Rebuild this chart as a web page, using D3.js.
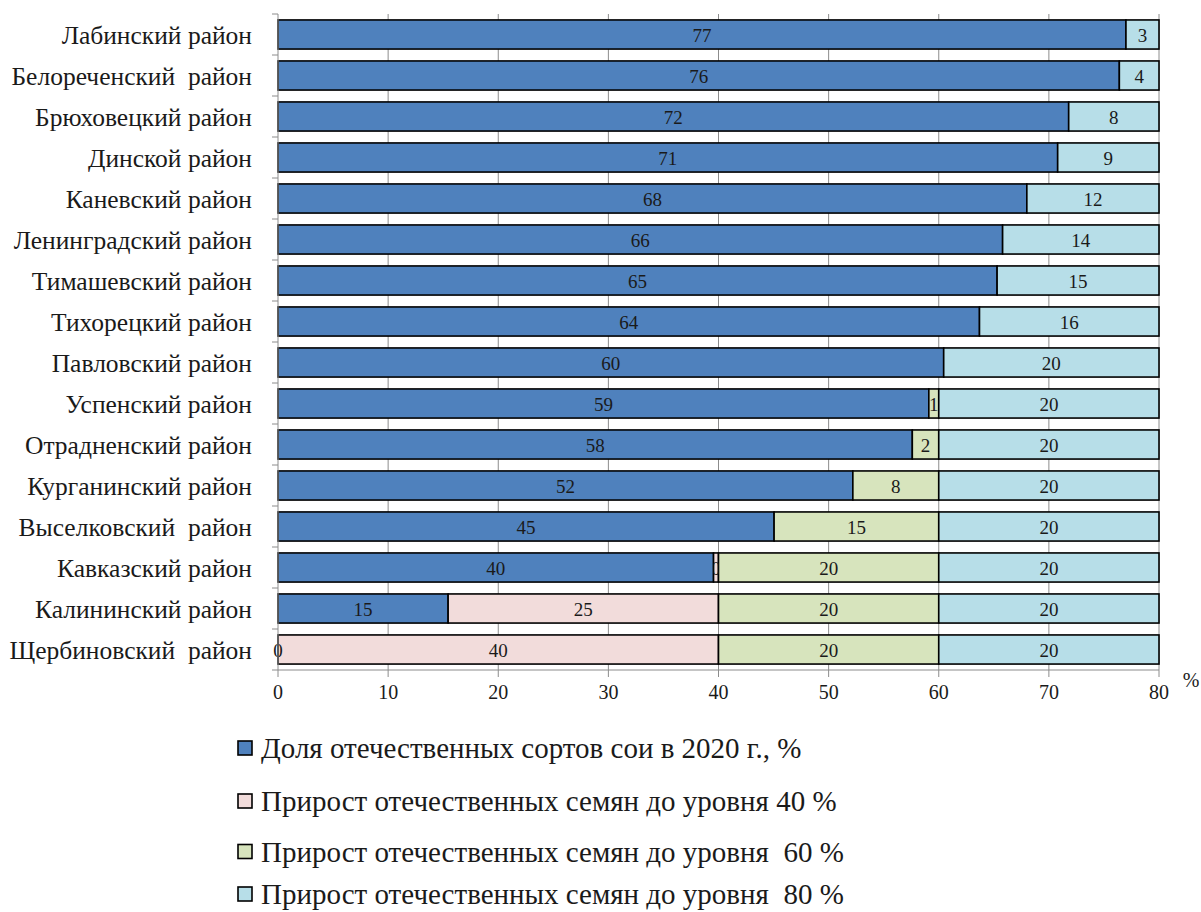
<!DOCTYPE html>
<html>
<head>
<meta charset="utf-8">
<script src="https://cdn.jsdelivr.net/npm/d3@7/dist/d3.min.js"></script>
<style>
  body { margin: 0; background: #fff; }
  text { font-family: "Liberation Serif", "Times New Roman", serif; white-space: pre; }
</style>
</head>
<body>
<svg id="chart" width="1201" height="912"></svg>
<script>
// Districts, top to bottom
const districts = [
  "Лабинский район", "Белореченский  район", "Брюховецкий район", "Динской район",
  "Каневский район", "Ленинградский район", "Тимашевский район", "Тихорецкий район",
  "Павловский район", "Успенский район", "Отрадненский район", "Курганинский район",
  "Выселковский  район", "Кавказский район", "Калининский район", "Щербиновский  район"
];

// Share of domestic soybean varieties in 2020, %
const share2020 = [77.0, 76.4, 71.8, 70.8, 68.0, 65.8, 65.3, 63.7, 60.45, 59.1, 57.6, 52.2, 45.05, 39.55, 15.45, 0];
// Growth needed to reach 40 %
const growthTo40 = [null, null, null, null, null, null, null, null, null, null, null, null, null, 0.45, 24.55, 40];
// Growth needed to reach 60 %
const growthTo60 = [null, null, null, null, null, null, null, null, null, 0.9, 2.4, 7.8, 14.95, 20, 20, 20];
// Growth needed to reach 80 %
const growthTo80 = [3.0, 3.6, 8.2, 9.2, 12.0, 14.2, 14.7, 16.3, 19.55, 20, 20, 20, 20, 20, 20, 20];

const xTicks = [0, 10, 20, 30, 40, 50, 60, 70, 80];

const seriesNames = [
  "Доля отечественных сортов сои в 2020 г., %",
  "Прирост отечественных семян до уровня 40 %",
  "Прирост отечественных семян до уровня  60 %",
  "Прирост отечественных семян до уровня  80 %"
];
const seriesColors = ["#4F81BD", "#F2DCDB", "#D7E4BD", "#B7DEE8"];
const seriesValues = [share2020, growthTo40, growthTo60, growthTo80];

const svg = d3.select("#chart");
const margin = { left: 278, top: 14 };
const plotW = 881, plotH = 656;
const textColor = "#1a1a1a";
const axisColor = "#8c8c8c";

const x = d3.scaleLinear().domain([0, 80]).range([margin.left, margin.left + plotW]);
const y = d3.scaleBand().domain(districts).range([margin.top, margin.top + plotH]).paddingInner(0.29).paddingOuter(0.145);
const yOuter = d3.scaleBand().domain(districts).range([margin.top, margin.top + plotH]);

// vertical gridlines
svg.append("g")
  .selectAll("line").data(xTicks.slice(1)).join("line")
  .attr("x1", d => x(d)).attr("x2", d => x(d))
  .attr("y1", margin.top).attr("y2", margin.top + plotH)
  .attr("stroke", axisColor).attr("stroke-width", 1);

// stacked rows
const segs = districts.flatMap((name, i) => {
  let acc = 0;
  const out = [];
  seriesValues.forEach((arr, s) => {
    const v = arr[i];
    if (v === null) return;
    out.push({ name, s, v, x0: acc, x1: acc + v });
    acc += v;
  });
  return out;
});

// labels of very thin middle segments are clipped to the segment
const defs = svg.append("defs");
segs.forEach((d, k) => {
  const thin = d.v < 1 && d.s > 0;
  defs.append("clipPath").attr("id", "clip" + k)
    .append("rect")
    .attr("x", x(d.x0) - (thin ? 0 : 12))
    .attr("y", y(d.name))
    .attr("width", x(d.x1) - x(d.x0) + (thin ? 0 : 24))
    .attr("height", y.bandwidth());
});

svg.append("g").selectAll("rect").data(segs).join("rect")
  .attr("x", d => x(d.x0))
  .attr("y", d => y(d.name))
  .attr("width", d => x(d.x1) - x(d.x0))
  .attr("height", y.bandwidth())
  .attr("fill", d => seriesColors[d.s])
  .attr("stroke", "#000").attr("stroke-width", 1.6);

svg.append("g").selectAll("text").data(segs).join("text")
  .attr("clip-path", (d, k) => `url(#clip${k})`)
  .attr("x", d => (x(d.x0) + x(d.x1)) / 2)
  .attr("y", d => y(d.name) + y.bandwidth() / 2 + 7)
  .attr("text-anchor", "middle")
  .attr("font-size", 19)
  .attr("fill", textColor)
  .text(d => Math.round(d.v));

// category axis
const yAxis = svg.append("g");
yAxis.append("line")
  .attr("x1", margin.left).attr("x2", margin.left)
  .attr("y1", margin.top).attr("y2", margin.top + plotH)
  .attr("stroke", axisColor).attr("stroke-width", 1);
const bounds = districts.map(d => yOuter(d)).concat([margin.top + plotH]);
yAxis.selectAll("line.tick").data(bounds).join("line")
  .attr("class", "tick")
  .attr("x1", margin.left - 6).attr("x2", margin.left)
  .attr("y1", d => d).attr("y2", d => d)
  .attr("stroke", axisColor).attr("stroke-width", 1);
yAxis.selectAll("text").data(districts).join("text")
  .attr("x", 252)
  .attr("y", d => yOuter(d) + yOuter.bandwidth() / 2 + 9)
  .attr("text-anchor", "end")
  .attr("font-size", 25.5)
  .attr("fill", textColor)
  .text(d => d);

// value axis
const xAxis = svg.append("g");
xAxis.append("line")
  .attr("x1", margin.left).attr("x2", margin.left + plotW)
  .attr("y1", margin.top + plotH).attr("y2", margin.top + plotH)
  .attr("stroke", axisColor).attr("stroke-width", 1);
xAxis.selectAll("line.tick").data(xTicks).join("line")
  .attr("class", "tick")
  .attr("x1", d => x(d)).attr("x2", d => x(d))
  .attr("y1", margin.top + plotH).attr("y2", margin.top + plotH + 7)
  .attr("stroke", axisColor).attr("stroke-width", 1);
xAxis.selectAll("text").data(xTicks).join("text")
  .attr("x", d => x(d))
  .attr("y", 699)
  .attr("text-anchor", "middle")
  .attr("font-size", 20)
  .attr("fill", textColor)
  .text(d => d);
svg.append("text")
  .attr("x", 1191).attr("y", 687)
  .attr("text-anchor", "middle")
  .attr("font-size", 20)
  .attr("fill", textColor)
  .text("%");

// legend
const legendY = [748, 801, 851.5, 894];
const lg = svg.append("g").selectAll("g").data(seriesNames).join("g")
  .attr("transform", (d, i) => `translate(238,${legendY[i]})`);
lg.append("rect")
  .attr("x", 0).attr("y", -7).attr("width", 14).attr("height", 14)
  .attr("fill", (d, i) => seriesColors[i])
  .attr("stroke", "#000").attr("stroke-width", 1.6);
lg.append("text")
  .attr("x", 23).attr("y", 10)
  .attr("font-size", 29)
  .attr("fill", textColor)
  .text(d => d);
</script>
</body>
</html>
